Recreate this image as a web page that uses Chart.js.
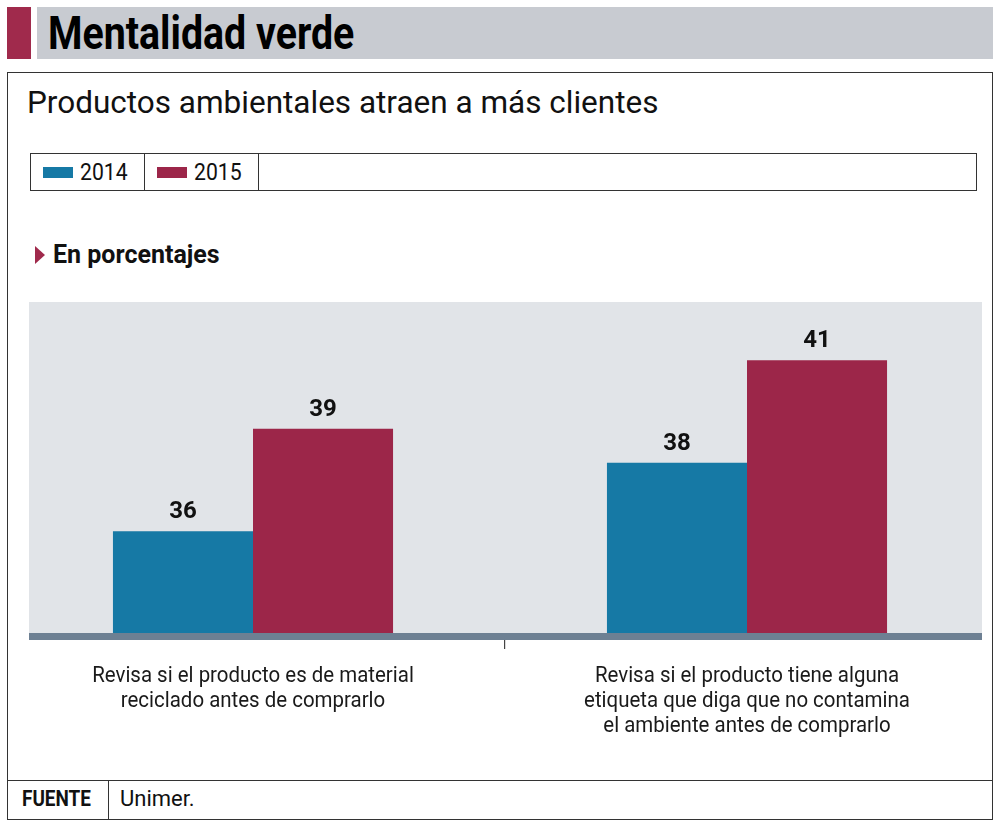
<!DOCTYPE html>
<html>
<head>
<meta charset="utf-8">
<script src="https://cdn.jsdelivr.net/npm/chart.js@4"></script>
<style>
  body { margin: 0; width: 1000px; height: 826px; background: #fff; position: relative; overflow: hidden;
         font-family: Roboto, sans-serif; color: #111; }
  .abs { position: absolute; }
  #redsq { left: 7px; top: 7px; width: 24px; height: 52px; background: #a02a4c; }
  #headbar { left: 37px; top: 7px; width: 956px; height: 52px; background: #c8cbd1; }
  #title { left: 48px; top: 6px; height: 52px; line-height: 54px; font-weight: bold; font-size: 46px; color: #000;
           transform: scaleX(0.855); transform-origin: left center; white-space: nowrap; }
  #outer { left: 7px; top: 72px; width: 984px; height: 746px; border: 1.5px solid #333; }
  #subtitle { left: 27px; top: 84px; font-size: 31.5px; color: #111; }
  #legend { left: 30px; top: 153px; width: 945px; height: 36px; border: 1.5px solid #333; display: flex; }
  .cell { border-right: 1.5px solid #333; height: 36px; display: flex; align-items: center; padding: 0 12px 0 12px; font-size: 23px; width: 89px; }
  .cell span.t { display: inline-block; transform: scaleX(0.92); transform-origin: left center; }
  .sw { width: 30px; height: 11px; margin-right: 7px; }
  #units { left: 35px; top: 240px; font-weight: bold; font-size: 25px; display: flex; align-items: center; }
  #units .tri { width: 0; height: 0; border-left: 10px solid #a02a4c; border-top: 9px solid transparent; border-bottom: 9px solid transparent; margin-right: 8px; }
  #footline { left: 7px; top: 780px; width: 986px; height: 0; border-top: 1.5px solid #333; }
  #fuente { left: 22px; top: 786px; font-weight: bold; font-size: 22px; transform: scaleX(0.86); transform-origin: left center; }
  #fdiv { left: 108px; top: 781px; width: 0; height: 38px; border-left: 1.5px solid #333; }
  #src { left: 120px; top: 786px; font-size: 22px; }
  #chartwrap { left: 0; top: 0; width: 1000px; height: 826px; }
</style>
</head>
<body>
<div class="abs" id="redsq"></div>
<div class="abs" id="headbar"></div>
<div class="abs" id="title">Mentalidad verde</div>
<div class="abs" id="outer"></div>
<div class="abs" id="subtitle">Productos ambientales atraen a más clientes</div>
<div class="abs" id="legend"></div>
<div class="abs" id="units"><span class="tri"></span>En porcentajes</div>
<div class="abs" id="footline"></div>
<div class="abs" id="fuente">FUENTE</div>
<div class="abs" id="fdiv"></div>
<div class="abs" id="src">Unimer.</div>
<div class="abs" id="chartwrap"><canvas id="chart"></canvas></div>

<script>
// data
const categories = [
  ["Revisa si el producto es de material", "reciclado antes de comprarlo"],
  ["Revisa si el producto tiene alguna", "etiqueta que diga que no contamina", "el ambiente antes de comprarlo"]
];
const seriesNames = ["2014", "2015"];
const values2014 = [36, 38];
const values2015 = [39, 41];
const seriesColors = ["#1679a5", "#9c2649"];

// legend boxes
const legend = document.getElementById("legend");
seriesNames.forEach((name, i) => {
  legend.innerHTML += `<div class="cell"><span class="sw" style="background:${seriesColors[i]}"></span><span class="t">${name}</span></div>`;
});

const plotBg = {
  id: "plotBg",
  beforeDraw(chart) {
    const ctx = chart.ctx, a = chart.chartArea;
    ctx.save();
    ctx.fillStyle = "#e1e4e8";
    ctx.fillRect(29, a.top, 953, a.bottom - a.top);
    ctx.restore();
  },
  afterDatasetsDraw(chart) {
    const ctx = chart.ctx, a = chart.chartArea;
    const x = chart.scales.x;
    ctx.save();
    // baseline
    ctx.fillStyle = "#6d8093";
    ctx.fillRect(29, a.bottom - 1, 953, 7);
    // separator tick between groups
    const mid = (x.getPixelForValue(0) + x.getPixelForValue(1)) / 2;
    ctx.fillStyle = "#444";
    ctx.fillRect(Math.round(mid) + 4, a.bottom + 6, 1.2, 9);
    // value labels
    ctx.fillStyle = "#111";
    ctx.font = "bold 24px Roboto, sans-serif";
    ctx.textAlign = "center";
    ctx.textBaseline = "alphabetic";
    chart.data.datasets.forEach((ds, di) => {
      chart.getDatasetMeta(di).data.forEach((bar, i) => {
        ctx.fillText(ds.data[i], bar.x, bar.y - 13);
      });
    });
    // category labels (squeezed a bit to look condensed)
    ctx.font = "22px Roboto, sans-serif";
    ctx.fillStyle = "#1a1a1a";
    ctx.textBaseline = "middle";
    categories.forEach((lines, i) => {
      const cx = x.getPixelForValue(i);
      lines.forEach((ln, j) => {
        ctx.save();
        ctx.translate(cx, a.bottom + 42 + j * 25);
        ctx.scale(0.93, 1);
        ctx.fillText(ln, 0, 0);
        ctx.restore();
      });
    });
    ctx.restore();
  }
};

new Chart(document.getElementById("chart").getContext("2d"), {
  type: "bar",
  data: {
    labels: categories.map(c => c.join(" ")),
    datasets: [
      { label: seriesNames[0], data: values2014, backgroundColor: seriesColors[0] },
      { label: seriesNames[1], data: values2015, backgroundColor: seriesColors[1] }
    ]
  },
  options: {
    responsive: true,
    maintainAspectRatio: false,
    animation: false,
    layout: { padding: { top: 302, bottom: 192, left: 6, right: 6 } },
    plugins: { legend: { display: false }, tooltip: { enabled: false }, title: { display: false } },
    datasets: { bar: { categoryPercentage: 0.567, barPercentage: 1.0 } },
    scales: {
      x: { display: false },
      y: { display: false, min: 33, max: 42.7 }
    }
  },
  plugins: [plotBg]
});
</script>
</body>
</html>
